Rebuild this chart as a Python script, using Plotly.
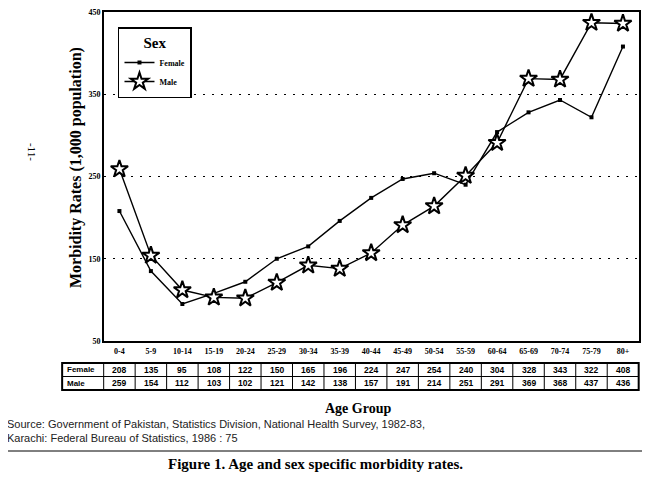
#!/usr/bin/env python3

import plotly.graph_objects as go

# Age and sex specific morbidity rates (per 1,000 population)
age_groups = ['0-4', '5-9', '10-14', '15-19', '20-24', '25-29', '30-34', '35-39', '40-44',
              '45-49', '50-54', '55-59', '60-64', '65-69', '70-74', '75-79', '80+']
female_rates = [208, 135, 95, 108, 122, 150, 165, 196, 224, 247, 254, 240, 304, 328, 343, 322, 408]
male_rates = [259, 154, 112, 103, 102, 121, 142, 138, 157, 191, 214, 251, 291, 369, 368, 437, 436]
y_ticks = [50, 150, 250, 350, 450]

SERIF = 'Liberation Serif'
SANS = 'Liberation Sans'
X_RANGE = [-0.49, 16.51]
Y_RANGE = [50, 450]

# plot box in page pixels (the page body adds an 8px offset)
PAGE_OFF = 8
BOX_L, BOX_R, BOX_T, BOX_B = 104, 639.5, 12, 341


def xpaper(px):
    return (px - BOX_L) / (BOX_R - BOX_L)


def ypaper(py):
    return (BOX_B - py) / (BOX_B - BOX_T)


def xcat(v):
    """Category position -> paper coordinate, using the x axis range."""
    return (v - X_RANGE[0]) / (X_RANGE[1] - X_RANGE[0])


def build_figure():
    fig = go.Figure()

    fig.add_trace(go.Scatter(
        x=age_groups, y=female_rates, mode='lines+markers', name='Female',
        line=dict(color='black', width=1.4),
        marker=dict(symbol='square', size=4, color='black'),
    ))
    fig.add_trace(go.Scatter(
        x=age_groups, y=male_rates, mode='lines+markers', name='Male',
        line=dict(color='black', width=1.4),
        marker=dict(symbol='star', size=13, color='white', line=dict(color='black', width=2)),
    ))

    fig.update_layout(
        width=650, height=478,
        margin=dict(l=BOX_L - PAGE_OFF, r=650 - (BOX_R - PAGE_OFF), t=BOX_T - PAGE_OFF,
                    b=478 - (BOX_B - PAGE_OFF)),
        plot_bgcolor='white', paper_bgcolor='white',
        font=dict(family=SERIF, color='black'),
        legend=dict(
            x=xpaper(118), y=ypaper(27), xanchor='left', yanchor='top',
            bgcolor='white', bordercolor='black', borderwidth=1.5,
            title=dict(text='<b>Sex</b>', side='top center', font=dict(size=15, family=SERIF)),
            font=dict(size=8, family=SERIF, weight='bold'),
            itemwidth=30,
        ),
    )

    fig.update_xaxes(
        type='category', range=X_RANGE, showgrid=False, ticks='',
        showline=True, linecolor='black', linewidth=1.6, mirror=True,
        ticklabelstandoff=2, automargin=False,
        tickfont=dict(size=8, family=SERIF, weight='bold'),
    )
    fig.update_yaxes(
        range=Y_RANGE, tickvals=y_ticks, ticks='', automargin=False,
        ticklabeloverflow='allow',
        showgrid=True, gridcolor='black', gridwidth=1.4, griddash='2px,7px',
        zeroline=False,
        showline=True, linecolor='black', linewidth=1.6, mirror=True,
        tickfont=dict(size=8, family=SERIF, weight='bold'),
    )

    # data table under the axis
    top, mid, bottom = ypaper(363), ypaper(376.5), ypaper(390)
    left = xcat(-1.82)
    right = xcat(len(age_groups) - 0.5)
    shapes = [
        dict(type='rect', xref='paper', yref='paper', x0=left, x1=right, y0=bottom, y1=top,
             line=dict(color='black', width=2)),
        dict(type='line', xref='paper', yref='paper', x0=left, x1=right, y0=mid, y1=mid,
             line=dict(color='black', width=1)),
    ]
    for i in range(len(age_groups)):
        shapes.append(dict(type='line', xref='paper', yref='paper',
                           x0=xcat(i - 0.5), x1=xcat(i - 0.5), y0=bottom, y1=top,
                           line=dict(color='black', width=1)))
    # rule above caption
    shapes.append(dict(type='line', xref='paper', yref='paper',
                       x0=xpaper(5), x1=xpaper(643), y0=ypaper(451), y1=ypaper(451),
                       line=dict(color='black', width=1)))

    annotations = []
    row_y = [ypaper(369.8), ypaper(383.3)]
    for label, vals, yy in [('Female', female_rates, row_y[0]), ('Male', male_rates, row_y[1])]:
        annotations.append(dict(xref='paper', yref='paper', x=left + 0.005, y=yy,
                                text=label, showarrow=False, xanchor='left', yanchor='middle',
                                font=dict(family=SANS, size=8, weight='bold')))
        for cat, v in zip(age_groups, vals):
            annotations.append(dict(xref='x', yref='paper', x=cat, y=yy, text=str(v),
                                    showarrow=False, xanchor='center', yanchor='middle',
                                    font=dict(family=SANS, size=8.5, weight='bold')))

    annotations += [
        dict(xref='paper', yref='paper', x=xpaper(76), y=ypaper(168),
             text='<b>Morbidity Rates (1,000 population)</b>', textangle=-90,
             xanchor='center', yanchor='middle',
             showarrow=False, font=dict(family=SERIF, size=16)),
        dict(xref='paper', yref='paper', x=xpaper(32), y=ypaper(152),
             text='-11-', textangle=90, xanchor='center', yanchor='middle',
             showarrow=False, font=dict(family=SERIF, size=11)),
        dict(xref='paper', yref='paper', x=xpaper(358), y=ypaper(408),
             xanchor='center', yanchor='middle',
             text='<b>Age Group</b>', showarrow=False, font=dict(family=SERIF, size=14)),
        dict(xref='paper', yref='paper', x=xpaper(5), y=ypaper(430.5), xanchor='left',
             yanchor='middle', align='left', showarrow=False,
             font=dict(family=SANS, size=11, color='#222'),
             text='Source: Government of Pakistan, Statistics Division, National Health Survey, 1982-83,'
                  '<br>Karachi: Federal Bureau of Statistics, 1986 : 75'),
        dict(xref='paper', yref='paper', x=xpaper(316), y=ypaper(464),
             xanchor='center', yanchor='middle',
             text='<b>Figure 1. Age and sex specific morbidity rates.</b>',
             showarrow=False, font=dict(family=SERIF, size=15)),
    ]

    fig.update_layout(shapes=shapes, annotations=annotations)
    return fig


def main():
    fig = build_figure()
    fig.write_html("out.html")


if __name__ == "__main__":
    main()
